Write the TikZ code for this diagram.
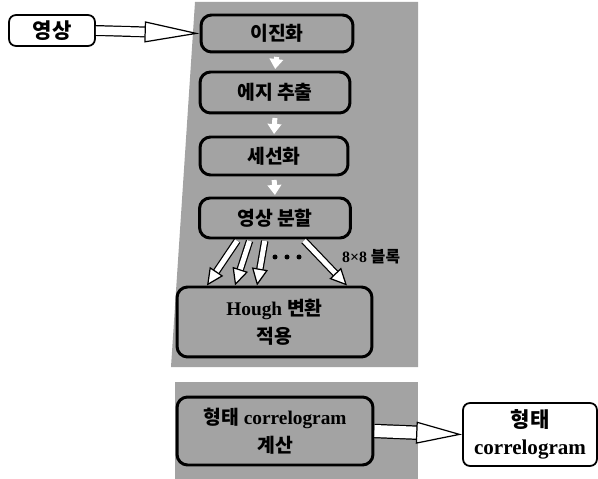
\documentclass[tikz,border=0pt]{standalone}
\usepackage{fontspec}
\setmainfont{Liberation Serif}
\newfontfamily\kr{Noto Sans CJK KR}
\usetikzlibrary{arrows.meta,calc}

\tikzset{
  stepbox/.style={draw, line width=1.7pt, rounded corners=6pt, fill=black!36,
    font=\bfseries\fontsize{11}{14}\selectfont, align=center, inner sep=0pt},
  endbox/.style={draw, line width=1pt, rounded corners=4pt, fill=white,
    font=\bfseries\fontsize{12}{15}\selectfont, align=center, inner sep=0pt},
  fatarrow/.style={draw=black, line width=0.7pt, double=white, double distance=#1},
  downarrow/.style={white, line width=0.1cm, shorten <=0.07cm, shorten >=0.03cm,
    -{Triangle[length=0.2cm, width=0.27cm]}}
}

\begin{document}
\begin{tikzpicture}[x=0.02cm, y=-0.02cm]

    \useasboundingbox (0,0) rectangle (598,479);

    % gray background
    \fill[black!36] (195,2) -- (418,2) -- (418,367) -- (171,367) -- cycle;
    \fill[black!36] (175,382) rectangle (418,479);

    % boxes
    \node[endbox, minimum width=1.72cm, minimum height=0.62cm] (img) at (52,30.5) {\kr 영상};
    \node[stepbox, minimum width=3.04cm, minimum height=0.74cm] (bin) at (277,33.5) {\kr 이진화};
    \node[stepbox, minimum width=3cm, minimum height=0.82cm] (edge) at (275,92.5) {\kr 에지 추출};
    \node[stepbox, minimum width=2.96cm, minimum height=0.76cm] (thin) at (274,156) {\kr 세선화};
    \node[stepbox, minimum width=3.02cm, minimum height=0.8cm] (split) at (275,218) {\kr 영상 분할};
    \node[stepbox, minimum width=3.9cm, minimum height=1.4cm] (hough) at (274.5,322)
        {Hough {\kr 변환}\\[2pt]{\kr 적용}};
    \node[stepbox, minimum width=3.92cm, minimum height=1.36cm] (calc) at (275,431)
        {{\kr 형태} correlogram\\[2pt]{\kr 계산}};
    \node[endbox, minimum width=2.68cm, minimum height=1.26cm] (out) at (530,434.5)
        {{\kr 형태}\\correlogram};

    % input and output arrows
    \draw[fatarrow=0.17cm, -{Triangle[length=1.1cm, width=0.42cm, fill=white]}] (img.east) -- (bin.west);
    \draw[fatarrow=0.24cm, -{Triangle[length=0.92cm, width=0.44cm, fill=white]}] (calc.east) -- (out.west);

    % down arrows
    \draw[downarrow] (bin.south) -- (edge.north);
    \draw[downarrow] (edge.south) -- (thin.north);
    \draw[downarrow] (thin.south) -- (split.north);

    % blocks
    \foreach \a/\b in {-0.74/-1.35, -0.5/-0.79, -0.2/-0.35, 0.56/1.45}
        \draw[fatarrow=0.1cm, shorten <=0.03cm, -{Triangle[length=0.34cm, width=0.32cm, fill=white]}]
            ([xshift=\a cm]split.south) -- ([xshift=\b cm]hough.north);
    \foreach \x in {275,287,299}
        \fill (\x,257) circle (0.05cm);
    \node[font=\bfseries\fontsize{9}{11}\selectfont, anchor=west] (blk) at (336,257) {8×8 {\kr 블록}};

\end{tikzpicture}
\end{document}
